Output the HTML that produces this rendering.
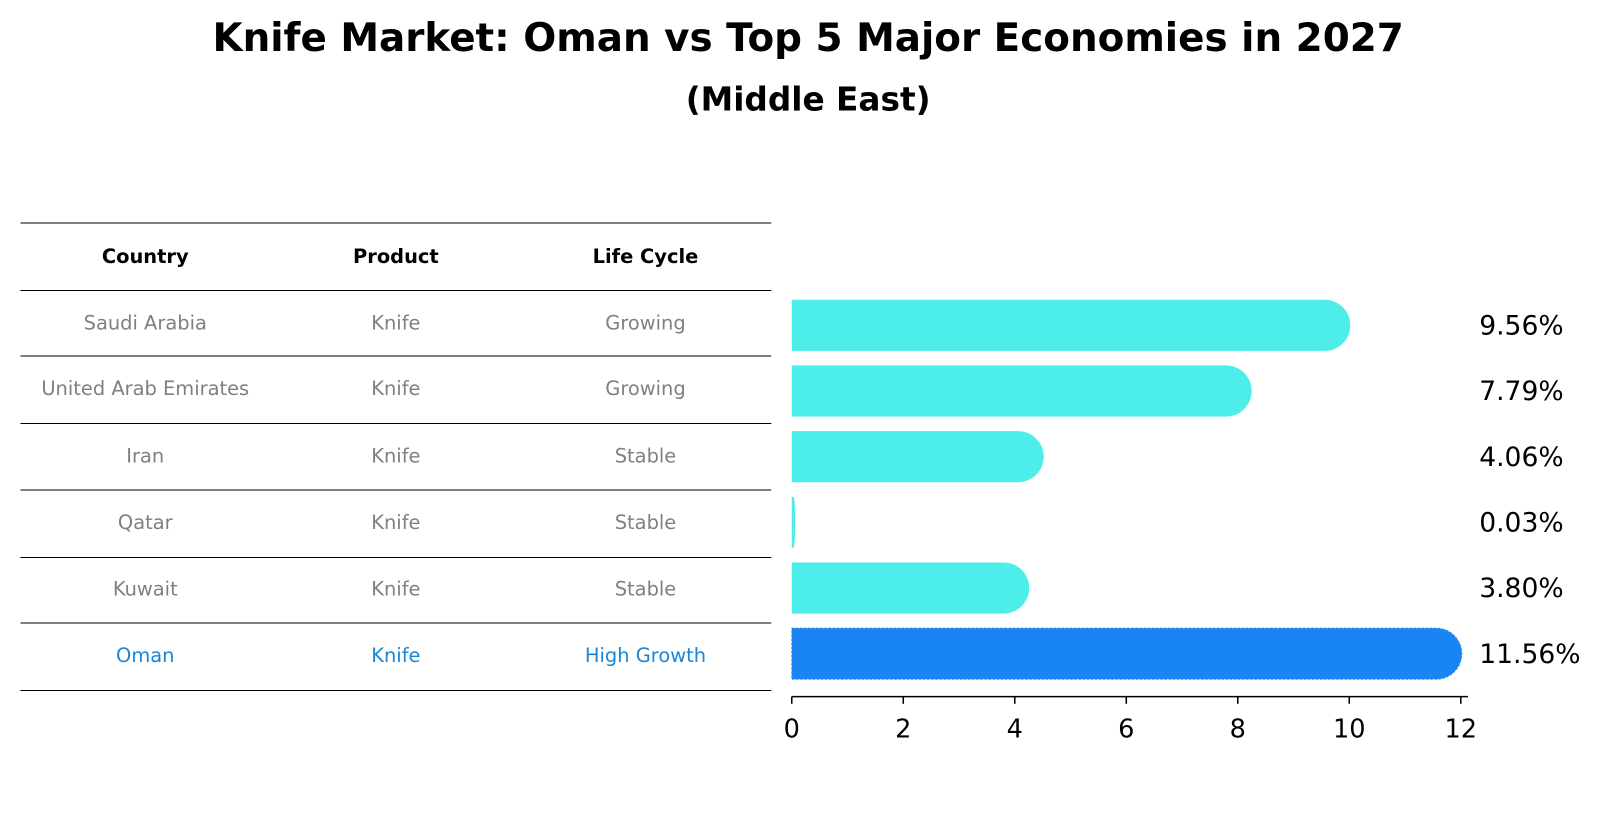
<!DOCTYPE html>
<html><head><meta charset="utf-8"><style>
body{margin:0;background:#fff;font-family:"Liberation Sans","DejaVu Sans",sans-serif}
</style></head><body>
<svg width="1604" height="823" viewBox="0 0 1568 804.5" xmlns="http://www.w3.org/2000/svg" font-family="DejaVu Sans, Liberation Sans, sans-serif">
<text x="790" y="50" text-anchor="middle" font-size="38" font-weight="bold">Knife Market: Oman vs Top 5 Major Economies in 2027</text>
<text x="790" y="108" text-anchor="middle" font-size="32" font-weight="bold">(Middle East)</text>
<g id="table"></g>
<g id="bars"></g>
</svg>
<script>
const countries=["Saudi Arabia","United Arab Emirates","Iran","Qatar","Kuwait","Oman"];
const products=["Knife","Knife","Knife","Knife","Knife","Knife"];
const lifeCycles=["Growing","Growing","Stable","Stable","Stable","High Growth"];
const values=[9.56,7.79,4.06,0.03,3.80,11.56];
const valueLabels=["9.56%","7.79%","4.06%","0.03%","3.80%","11.56%"];
const ticks=[0,2,4,6,8,10,12];
const NS="http://www.w3.org/2000/svg";
function mk(t,a,p,txt){const e=document.createElementNS(NS,t);for(const k in a)e.setAttribute(k,a[k]);if(txt!=null)e.textContent=txt;p.appendChild(e);return e;}
const x=v=>774+v*54.5;
const rowY=i=>318+i*64.2;
const tbl=document.getElementById('table');
const lines=[218,284,348,414,479,545,609,675];
lines.forEach((y,i)=>{const l=mk('line',{x1:20,x2:754,y1:y,y2:y,stroke:'#000','stroke-width':1},tbl);

});
const cx=[142,387,631];
["Country","Product","Life Cycle"].forEach((h,j)=>{const t=mk('text',{x:cx[j],y:257,'text-anchor':'middle','font-size':19,'font-weight':'bold'},tbl,h);

});
const rowsY=[316,380,446,511,576,641];
countries.forEach((c,i)=>{const col=i===5?'#1a86d4':'#808080';
[c,products[i],lifeCycles[i]].forEach((v,j)=>{const t=mk('text',{x:cx[j],y:rowsY[i]+6,'text-anchor':'middle','font-size':19,fill:col},tbl,v);

});});
const g=document.getElementById('bars');
const h=50;
values.forEach((v,i)=>{const y0=rowY(i)-h/2,xe=x(v),w=xe-x(0),r=Math.min(h/2,Math.max(w,1.5));
const d=`M${x(0)},${y0} L${xe},${y0} A${r},${h/2} 0 0 1 ${xe},${y0+h} L${x(0)},${y0+h} Z`;
const p=mk('path',{d:d,fill:i===5?'#1985F5':'#4DEDEA',stroke:i===5?'#3a8ce0':'none','stroke-dasharray':i===5?'2,2':'none'},g);


const t=mk('text',{x:1446,y:rowY(i)+9,'font-size':26},g,valueLabels[i]);

});
const ax=mk('line',{x1:774,x2:1435,y1:681,y2:681,stroke:'#000','stroke-width':1.5},g);


ticks.forEach(v=>{const l=mk('line',{x1:x(v),x2:x(v),y1:681,y2:688,stroke:'#000','stroke-width':1.5},g);


const t=mk('text',{x:x(v),y:721,'text-anchor':'middle','font-size':25},g,String(v));

});
</script>
</body></html>
